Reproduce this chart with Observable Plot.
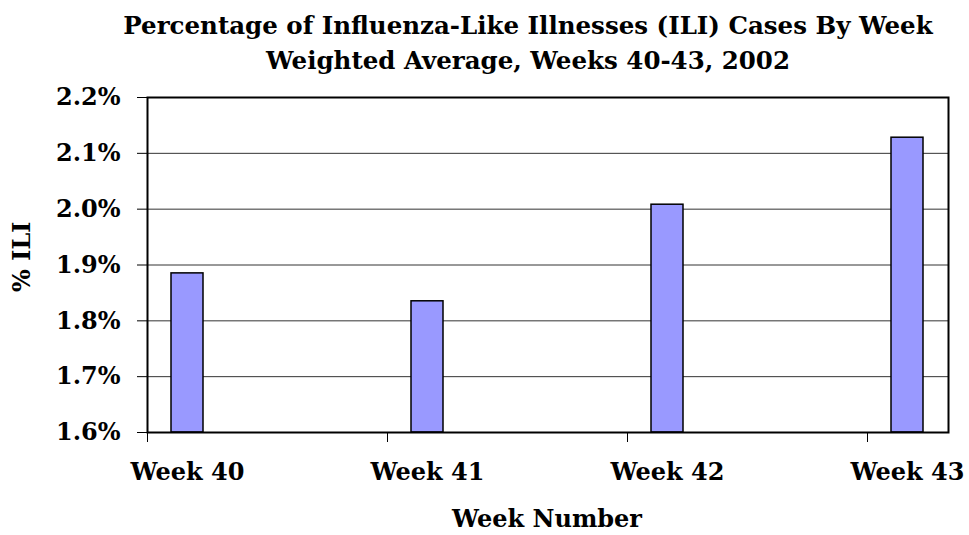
<!DOCTYPE html>
<html>
<head>
<meta charset="utf-8">
<script src="https://cdn.jsdelivr.net/npm/d3@7"></script>
<script src="https://cdn.jsdelivr.net/npm/@observablehq/plot@0.6"></script>
<style>
  html, body { margin: 0; padding: 0; background: #fff; }
  #wrap { width: 969px; height: 535px; position: relative; overflow: hidden; }
  #title { position: absolute; left: 0; top: 0; width: 969px; box-sizing: border-box; padding-left: 87px;
    text-align: center; font-family: "DejaVu Serif", serif; font-weight: bold; font-size: 24.5px; line-height: 35px; padding-top: 8px; color: #000; white-space: nowrap; }
  #chart { position: absolute; left: 0; top: 0; }
</style>
</head>
<body>
<div id="wrap">
  <div id="chart"></div>
  <div id="title">Percentage of Influenza-Like Illnesses (ILI) Cases By Week<br>Weighted Average, Weeks 40-43, 2002</div>
</div>
<script>
const weeks = ["Week 40", "Week 41", "Week 42", "Week 43"];
const iliPct = [1.885, 1.835, 2.008, 2.128];
const yTicks = [1.6, 1.7, 1.8, 1.9, 2.0, 2.1, 2.2];
const xTitle = "Week Number";
const yTitle = "% ILI";

const data = weeks.map((w, i) => ({week: w, value: iliPct[i]}));
const font = "DejaVu Serif, serif";

const chart = Plot.plot({
  width: 969,
  height: 535,
  marginLeft: 147,
  marginRight: 21,
  marginTop: 97,
  marginBottom: 103,
  style: {fontFamily: font, fontWeight: "bold", fontSize: "24px", color: "#000", background: "transparent"},
  x: {domain: weeks, range: [147, 947], paddingInner: 0.8667, paddingOuter: 0.1, align: 0.5, axis: null},
  y: {domain: [1.6, 2.2], axis: null},
  marks: [
    Plot.gridY(yTicks, {stroke: "#333", strokeOpacity: 1, strokeWidth: 1}),
    Plot.barY(data, {x: "week", y1: 1.6, y2: "value", fill: "#9999ff", stroke: "#000", strokeWidth: 1.5}),
    Plot.frame({stroke: "#000", strokeWidth: 2}),
    Plot.axisY(yTicks, {anchor: "left", tickSize: 10, tickPadding: 17, stroke: "#000", strokeWidth: 1,
      tickFormat: d => d.toFixed(1) + "%", label: null, fontSize: 24, fontWeight: "bold"}),
    Plot.axisX(weeks, {anchor: "bottom", tickSize: 10, dx: -40, stroke: "#000", strokeWidth: 1, tickFormat: () => "", label: null}),
    Plot.axisX(weeks, {anchor: "bottom", tickSize: 0, tickPadding: 30, tickFormat: d => d, label: null, fontSize: 24, fontWeight: "bold"}),
    Plot.text([xTitle], {frameAnchor: "bottom", text: d => d, dy: 94, fontSize: 24, fontWeight: "bold", dx: -1}),
    Plot.text([yTitle], {frameAnchor: "left", text: d => d, rotate: -90, dx: -125, dy: 27, fontSize: 24, fontWeight: "bold"})
  ]
});
document.getElementById("chart").appendChild(chart);
</script>
</body>
</html>
